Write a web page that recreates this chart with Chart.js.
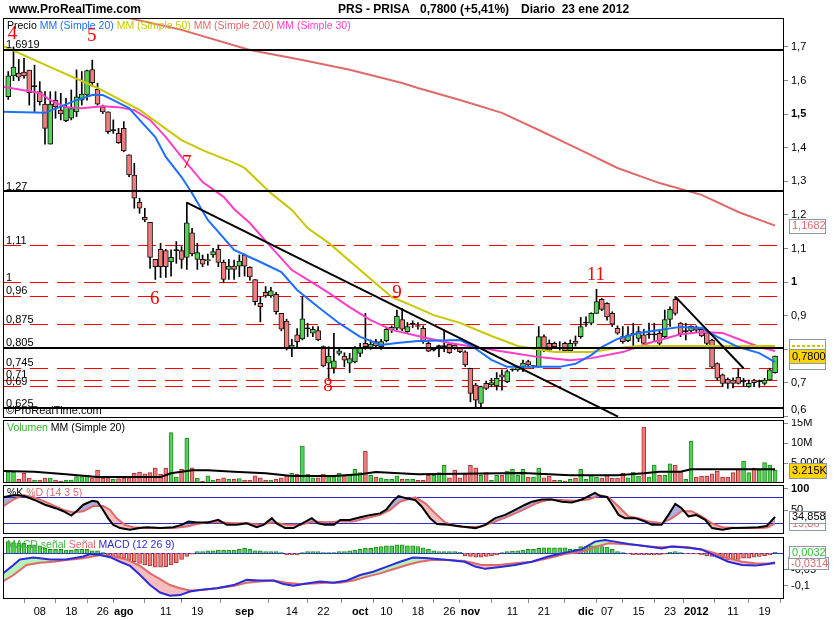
<!DOCTYPE html>
<html lang="es">
<head>
<meta charset="utf-8">
<title>PRS - PRISA</title>
<script src="https://cdn.jsdelivr.net/npm/chart.js@4.4.1/dist/chart.umd.min.js"></script>
<style>
  html, body { margin: 0; padding: 0; background: #fff; }
  #wrap { position: relative; width: 835px; height: 620px; overflow: hidden; }
  #wrap canvas { position: absolute; left: 0; }
</style>
</head>
<body>
<div id="wrap">
  <canvas id="cPrice" width="835" height="419" style="top:0px"></canvas>
  <canvas id="cVol" width="835" height="65" style="top:419px"></canvas>
  <canvas id="cSto" width="835" height="51" style="top:484px"></canvas>
  <canvas id="cMacd" width="835" height="84" style="top:536px"></canvas>
</div>
<script>
// daily candles, 30 jun 2011 -> 23 ene 2012 (index = trading day)
const opens = [
  1.552,1.614,1.622,1.625,1.631,1.582,1.567,1.530,1.411,1.542,
  1.512,1.481,1.488,1.507,1.542,1.557,1.633,1.574,1.522,1.507,
  1.451,1.443,1.458,1.379,1.319,1.238,1.193,1.178,1.068,1.098,
  1.094,1.060,1.094,1.094,1.074,1.147,1.068,1.068,1.064,1.081,
  1.098,1.059,1.038,1.048,1.048,1.081,1.044,1.008,0.937,0.970,
  0.959,0.964,0.907,0.884,0.806,0.843,0.831,0.861,0.848,0.856,
  0.808,0.759,0.744,0.788,0.780,0.759,0.763,0.788,0.818,0.806,
  0.823,0.808,0.826,0.858,0.863,0.889,0.853,0.875,0.870,0.863,
  0.818,0.798,0.808,0.808,0.816,0.813,0.803,0.793,0.744,0.694,
  0.639,0.699,0.694,0.691,0.724,0.704,0.739,0.739,0.747,0.764,
  0.749,0.747,0.838,0.818,0.818,0.803,0.818,0.796,0.825,0.838,
  0.878,0.878,0.907,0.949,0.937,0.907,0.863,0.838,0.826,0.843,
  0.833,0.843,0.843,0.843,0.848,0.838,0.889,0.949,0.878,0.853,
  0.855,0.867,0.860,0.850,0.828,0.758,0.724,0.711,0.709,0.717,
  0.704,0.689,0.709,0.704,0.699,0.709,0.731
];
const highs = [
  1.627,1.700,1.663,1.666,1.631,1.646,1.597,1.567,1.567,1.567,
  1.562,1.547,1.572,1.632,1.627,1.631,1.661,1.592,1.527,1.507,
  1.483,1.458,1.478,1.379,1.354,1.250,1.220,1.178,1.068,1.116,
  1.098,1.096,1.121,1.106,1.237,1.160,1.116,1.081,1.084,1.101,
  1.111,1.066,1.068,1.066,1.081,1.084,1.046,1.008,0.957,0.987,
  0.985,0.970,0.907,0.890,0.830,0.862,0.957,0.878,0.868,0.868,
  0.810,0.808,0.848,0.803,0.790,0.788,0.808,0.818,0.907,0.828,
  0.830,0.830,0.866,0.870,0.917,0.922,0.880,0.885,0.880,0.870,
  0.828,0.805,0.813,0.858,0.818,0.818,0.806,0.796,0.744,0.699,
  0.691,0.706,0.714,0.731,0.739,0.739,0.742,0.750,0.768,0.768,
  0.752,0.868,0.843,0.828,0.822,0.823,0.822,0.828,0.840,0.895,
  0.897,0.909,0.979,0.952,0.939,0.912,0.870,0.868,0.868,0.878,
  0.868,0.860,0.878,0.878,0.858,0.917,0.927,0.957,0.880,0.878,
  0.870,0.870,0.866,0.853,0.830,0.760,0.727,0.715,0.715,0.744,
  0.714,0.709,0.711,0.709,0.714,0.744,0.780
];
const lows = [
  1.544,1.600,1.600,1.607,1.527,1.508,1.527,1.411,1.411,1.488,
  1.483,1.478,1.483,1.493,1.527,1.542,1.582,1.527,1.502,1.443,
  1.443,1.413,1.388,1.314,1.220,1.205,1.180,1.041,1.008,1.014,
  1.014,1.018,1.056,1.041,1.038,1.078,1.038,1.046,1.051,1.074,
  1.046,0.998,1.008,1.008,1.016,1.018,1.006,0.932,0.882,0.955,
  0.955,0.905,0.855,0.798,0.778,0.808,0.828,0.838,0.838,0.826,
  0.748,0.711,0.729,0.783,0.748,0.731,0.760,0.778,0.800,0.800,
  0.805,0.800,0.822,0.850,0.858,0.856,0.850,0.865,0.860,0.818,
  0.793,0.795,0.778,0.793,0.788,0.800,0.790,0.749,0.644,0.625,
  0.625,0.680,0.689,0.679,0.679,0.701,0.735,0.735,0.734,0.747,
  0.745,0.747,0.793,0.793,0.805,0.798,0.793,0.793,0.810,0.833,
  0.868,0.873,0.907,0.915,0.887,0.868,0.845,0.818,0.823,0.808,
  0.823,0.813,0.833,0.823,0.808,0.833,0.868,0.902,0.838,0.828,
  0.850,0.850,0.838,0.813,0.744,0.709,0.689,0.684,0.685,0.697,
  0.689,0.687,0.689,0.687,0.694,0.707,0.729
];
const closes = [
  1.614,1.640,1.610,1.614,1.564,1.582,1.537,1.458,1.530,1.522,
  1.501,1.522,1.517,1.552,1.560,1.630,1.594,1.530,1.507,1.448,
  1.451,1.415,1.391,1.319,1.250,1.220,1.185,1.074,1.046,1.046,
  1.046,1.074,1.094,1.068,1.177,1.084,1.088,1.054,1.066,1.091,
  1.059,1.008,1.048,1.038,1.063,1.048,1.016,0.942,0.927,0.959,
  0.974,0.912,0.860,0.803,0.813,0.823,0.891,0.861,0.860,0.828,
  0.751,0.780,0.766,0.796,0.768,0.773,0.806,0.803,0.808,0.816,
  0.810,0.823,0.860,0.866,0.899,0.860,0.868,0.875,0.868,0.823,
  0.795,0.798,0.808,0.808,0.790,0.803,0.793,0.754,0.669,0.649,
  0.689,0.684,0.701,0.714,0.717,0.734,0.739,0.747,0.759,0.754,
  0.749,0.838,0.798,0.798,0.808,0.803,0.796,0.818,0.818,0.868,
  0.878,0.907,0.942,0.919,0.897,0.875,0.848,0.823,0.843,0.848,
  0.853,0.818,0.843,0.843,0.818,0.889,0.919,0.907,0.846,0.853,
  0.869,0.857,0.840,0.818,0.747,0.714,0.699,0.699,0.699,0.699,
  0.704,0.699,0.701,0.704,0.709,0.739,0.780
];
// volume in millions of shares
const volumes = [
  2.75,2.75,0.9,2.4,1.2,0.7,0.75,1.2,1.2,0.7,
  0.5,0.75,0.7,1.6,1.6,1.9,1.3,3.2,1.2,1.3,
  0.9,1.1,1.2,1.3,2.4,2.75,2.3,2.6,3.7,2.2,
  3.7,12.6,1.5,3.4,11.2,3.8,1.2,0.5,1.8,0.7,
  0.9,1.3,0.9,0.9,1.1,0.7,0.75,1.8,1.3,0.7,
  0.75,0.9,1.3,1.8,2.4,2.2,9.25,2.2,1.3,1.3,
  2.2,1.6,1.6,2.4,1.8,1.9,3.4,2.6,8.0,1.9,
  1.5,1.3,0.9,0.9,1.8,0.9,0.9,0.9,0.67,0.67,
  1.9,1.9,2.6,4.4,1.3,3.2,1.3,2.2,4.4,3.8,
  1.9,2.6,0.67,1.9,1.9,3.0,3.4,1.9,3.4,1.5,
  1.5,3.7,1.3,1.75,0.67,0.67,0.5,0.9,1.2,3.4,
  0.9,1.9,1.5,1.2,1.9,1.2,1.2,2.4,1.3,2.75,
  1.75,14.0,1.5,4.5,1.9,1.9,4.8,4.5,3.0,0.9,
  10.5,1.5,1.75,1.75,2.3,3.0,1.5,1.5,2.6,3.4,
  5.5,2.6,3.7,3.2,5.1,4.5,3.215
];
const macdHist = [
  0.036,0.033,0.031,0.031,0.026,0.026,0.023,0.015,0.012,0.012,
  0.012,0.010,0.010,0.012,0.012,0.012,0.008,0.008,0.002,-0.005,
  -0.010,-0.012,-0.015,-0.021,-0.026,-0.031,-0.036,-0.039,-0.043,-0.043,
  -0.041,-0.036,-0.029,-0.019,-0.010,-0.003,0.005,0.005,0.008,0.008,
  0.010,0.010,0.010,0.010,0.012,0.015,0.012,0.008,0.008,0.005,
  0.005,0.005,0.002,-0.005,-0.005,-0.005,0.002,0.005,0.005,0.005,
  0.002,0.002,0.002,0.005,0.005,0.008,0.010,0.012,0.015,0.015,
  0.019,0.021,0.023,0.023,0.026,0.026,0.023,0.023,0.021,0.017,
  0.012,0.008,0.005,0.005,0.005,0.005,0.003,-0.008,-0.010,-0.012,
  -0.012,-0.010,-0.008,-0.005,0.002,0.005,0.007,0.008,0.010,0.012,
  0.012,0.015,0.017,0.017,0.017,0.017,0.017,0.012,0.012,0.021,
  0.021,0.023,0.023,0.021,0.019,0.012,0.005,0.002,-0.002,-0.005,
  -0.005,-0.005,-0.005,-0.005,-0.005,-0.003,0.003,0.005,0.002,-0.002,
  -0.002,-0.002,-0.005,-0.008,-0.010,-0.012,-0.015,-0.019,-0.019,-0.019,
  -0.015,-0.015,-0.012,-0.010,-0.007,-0.005,0.0032
];

// indicator lines: [day index, value]
const mm20 = [[-1,1.507],[7,1.504],[13,1.542],[16,1.557],[18,1.557],[20,1.542],[23,1.518],[25,1.483],[28,1.432],[30,1.373],[33,1.313],[35,1.265],[38,1.185],[43,1.096],[48,1.060],[52,1.030],[55,0.977],[59,0.926],[63,0.878],[67,0.837],[71,0.813],[74,0.819],[78,0.825],[86,0.828],[88,0.813],[92,0.769],[95,0.748],[105,0.748],[108,0.757],[111,0.783],[113,0.807],[116,0.831],[120,0.849],[124,0.858],[128,0.867],[132,0.864],[135,0.837],[139,0.807],[143,0.789],[146,0.762]];
const mm30 = [[-1,1.582],[6,1.563],[8,1.542],[11,1.521],[14,1.518],[18,1.524],[21,1.521],[24,1.512],[27,1.483],[30,1.432],[33,1.373],[37,1.298],[41,1.254],[43,1.218],[46,1.176],[50,1.105],[54,1.036],[58,0.998],[61,0.968],[65,0.926],[69,0.887],[73,0.858],[78,0.840],[84,0.819],[90,0.804],[96,0.789],[101,0.777],[107,0.768],[111,0.774],[117,0.792],[122,0.819],[128,0.845],[132,0.852],[136,0.849],[139,0.831],[143,0.807],[146,0.795]];
const mm50 = [[-1,1.703],[8,1.640],[17,1.578],[25,1.513],[33,1.423],[37,1.393],[43,1.355],[45,1.340],[50,1.265],[54,1.215],[57,1.161],[61,1.117],[67,1.036],[73,0.956],[78,0.923],[81,0.902],[86,0.879],[92,0.840],[97,0.810],[104,0.792],[111,0.792],[116,0.804],[120,0.810],[132,0.810],[146,0.810]];
const mm200 = [[0,1.88],[23,1.786],[33,1.751],[46,1.691],[56,1.661],[65,1.632],[75,1.593],[78,1.578],[86,1.542],[94,1.504],[101,1.453],[109,1.393],[116,1.340],[124,1.295],[132,1.260],[139,1.209],[146,1.1682]];
const volMa = [[-1,3.0],[5,2.83],[11,2.17],[17,1.5],[29,1.5],[31,2.42],[35,3.17],[38,3.17],[43,2.83],[49,2.42],[54,1.75],[62,1.75],[67,2.17],[70,2.75],[78,2.17],[98,2.5],[107,1.92],[116,1.92],[121,2.42],[124,2.83],[128,2.83],[130,3.42],[146,3.42]];
const stochK = [[-1,80],[1,85],[2,85],[3,83],[5,74],[7,63],[9,55],[10.5,48],[12,38],[13,48],[14.3,63],[16,72],[17,70],[18,52],[19,32],[20,16.5],[21.3,9],[23.2,5],[25,9],[26.4,11],[29,9],[31.4,11],[33,16.5],[34.3,24],[36,22],[38,22],[40,28],[41.6,16.5],[43.5,16.5],[45.4,20],[47.3,11],[48.6,16.5],[50.2,32],[51.1,20],[52.7,9],[54.3,9],[56,20],[57.8,32],[59,20],[60.3,16.5],[62,16.5],[63.2,28],[65,28],[67,34],[69,39.5],[70.8,43],[72,52],[73.3,72],[74.3,83],[76,77],[77.5,74],[78.7,59],[80.3,32],[81.6,18.5],[83.8,16.5],[86.3,12.5],[89,9],[90.8,16.5],[92.7,32],[94.6,39.5],[96.5,51],[98.4,63],[99.7,70],[101.6,75],[103.5,75],[105.4,70],[107.3,68],[109.2,75],[110.5,83],[111.7,90.5],[112.7,83],[114,81],[115,63],[116.2,39.5],[117.4,32],[119.4,32],[121.3,24],[122.5,16.5],[124.4,16.5],[125.7,39.5],[127,65],[128.2,55],[129.5,36],[131,39.5],[132.7,28],[134,9],[136,5],[137.8,9],[140.3,10],[142.8,11],[144.4,14],[146,34.858]];
const stochD = [[-1,59],[1,75],[3,85],[5,80],[7,70],[9,59],[10.5,51],[12.4,45],[14.3,48],[16.2,60],[18.1,60],[19.4,51],[20.6,32],[22.2,16.5],[23.8,11],[26.4,9],[31.4,9],[34,12.5],[36,18.5],[37.8,22.5],[40.3,22.5],[43,20],[45.4,20],[48,16.5],[50.5,22.5],[53,16.5],[55.6,16.5],[58.1,24],[60.6,22.5],[63.2,24],[65.7,24],[68.3,32],[70.8,39.5],[72.7,51],[74.6,70],[76.5,77],[77.5,80],[79.4,66],[81.3,43],[83.2,22],[85.1,14],[87.6,11],[90.1,12.5],[92.7,24],[95.2,36],[97.8,50],[100.3,65],[102.8,75],[105.4,74],[108,72],[110.5,75],[112.7,85],[114.3,80],[116.2,59],[118.1,36],[120,32],[122,24],[124.4,20],[126.4,32],[128.2,48],[130.1,48],[132,36],[134,20],[136,11],[138.4,9],[143.5,9],[144.7,11],[146,19.86]];
const macdLine = [[-1,-0.062],[1,-0.036],[2.2,-0.019],[4.8,-0.013],[8,-0.019],[11,-0.019],[14.3,-0.010],[15.6,-0.002],[17.5,-0.005],[19.4,-0.012],[21.3,-0.026],[23.2,-0.039],[25.1,-0.067],[27,-0.098],[28.9,-0.121],[30.8,-0.131],[32.7,-0.129],[34.6,-0.118],[36.5,-0.113],[39.7,-0.108],[42.9,-0.098],[45.4,-0.082],[47.9,-0.084],[50.5,-0.084],[52.4,-0.095],[54.3,-0.100],[56.8,-0.093],[59.4,-0.087],[61.9,-0.091],[64.5,-0.084],[67,-0.067],[69.5,-0.057],[72.1,-0.041],[74.6,-0.026],[77.1,-0.013],[80,-0.015],[83.8,-0.021],[86.9,-0.026],[88.9,-0.041],[90.8,-0.048],[93.3,-0.043],[96.5,-0.036],[99.7,-0.026],[102.8,-0.010],[106,0.002],[109.2,0.012],[111.7,0.036],[113.6,0.041],[115.5,0.036],[118.1,0.029],[121.9,0.021],[124.4,0.015],[126.3,0.021],[129.5,0.017],[132,0.012],[134.6,-0.008],[137.1,-0.026],[139.7,-0.036],[142.2,-0.038],[144.7,-0.033],[146,-0.0282]];
const signalLine = [[-1,-0.087],[1,-0.067],[3.5,-0.036],[6,-0.029],[8.6,-0.026],[11.1,-0.021],[14.3,-0.015],[17.5,-0.005],[20,-0.010],[22.5,-0.019],[25.1,-0.039],[27,-0.062],[28.9,-0.080],[30.8,-0.098],[32.7,-0.108],[34.6,-0.115],[36.5,-0.113],[39.7,-0.108],[42.9,-0.101],[45.4,-0.091],[47.9,-0.087],[50.5,-0.084],[53,-0.091],[55.6,-0.095],[58.1,-0.093],[60.6,-0.091],[63.2,-0.091],[65.7,-0.084],[68.3,-0.072],[70.8,-0.062],[73.3,-0.049],[75.9,-0.036],[78.1,-0.027],[80.6,-0.021],[83.8,-0.021],[86.9,-0.024],[90.1,-0.036],[93.3,-0.036],[96.5,-0.031],[99.7,-0.026],[102.8,-0.015],[106,-0.002],[109.2,0.005],[111.7,0.019],[114.3,0.031],[116.8,0.029],[119.4,0.026],[121.9,0.021],[124.4,0.019],[126.9,0.021],[129.5,0.019],[132,0.012],[134.6,0.000],[137.1,-0.015],[139.7,-0.026],[142.2,-0.031],[146,-0.0314]];

// drawn studies
const trendA = [[34,1.237],[116.1,0.600]];
const trendB = [[127,0.957],[140,0.744]];
const solidLevels = [1.6919, 1.27, 0.805, 0.625];
const dashLevels = [1.11, 1, 0.96, 0.875, 0.745, 0.71, 0.69];
const waveNums = [['4',0.8,1.739],['5',15.9,1.734],['6',27.9,0.949],['7',34,1.355],['8',60.9,0.690],['9',74,0.968],['11',111.9,1.021]];

// axes
const priceTicks = [0.6,0.7,0.8,0.9,1,1.1,1.2,1.3,1.4,1.5,1.6,1.7];
const volTicks = [5,10,15];
const volTickLbl = ['5,000K','10M','15M'];
const stoTicks = [50,100];
const stoLevels = [20,80];
const macdTicks = [-0.1,-0.05];
const tickIdx = [6,12,18,22,30,36,45,54,60,67,72,78,84,88,96,102,110,114,120,126,131,138,144];
const tickLbl = ['08','18','26','ago','11','19','sep','14','22','oct','10','18','26','nov','11','21','dic','07','15','23','2012','11','19'];
const boldLbl = ['ago','sep','oct','nov','dic','2012'];

const FONT = '"Liberation Sans", Arial, Helvetica, sans-serif';
Chart.defaults.font.family = FONT;
Chart.defaults.font.size = 11;
Chart.defaults.color = '#000';

const GREEN = '#52d452', GREEN_EDGE = '#238a23';
const RED = '#ee7d7d', RED_EDGE = '#a83636';
const C20 = '#1f6fff', C50 = '#c8c800', C200 = '#e06a6a', C30 = '#ff3ec8', SAL = '#e06a6a', MACD_BLUE = '#2b2bdc';
const X_MIN = -1.0, X_MAX = 147.7;

const pts = arr => arr.map(p => ({x: p[0], y: p[1]}));
const last = arr => arr[arr.length - 1][1];
const comma = v => String(v).replace('.', ',');
const line = (arr, color, w, order) => ({
  type: 'line', data: pts(arr), borderColor: color, borderWidth: w || 2,
  pointRadius: 0, tension: 0, fill: false, order: order || 1, clip: 0
});

function xAxis(show) {
  if (!show) return {type: 'linear', min: X_MIN, max: X_MAX, offset: false, display: false};
  return {
    type: 'linear', min: X_MIN, max: X_MAX, offset: false,
    afterBuildTicks: s => { s.ticks = tickIdx.map(v => ({value: v})); },
    afterFit: s => { s.height = 21; s.paddingLeft = 0; s.paddingRight = 0; },
    grid: {display: true, drawOnChartArea: false, drawTicks: true, tickLength: 4, color: '#8a8a8a'},
    border: {display: false},
    ticks: {
      autoSkip: false, maxRotation: 0, padding: 2, color: '#000',
      callback: (v, i) => tickLbl[i],
      font: c => ({family: FONT, size: 11, weight: boldLbl.includes(tickLbl[c.index]) ? 'bold' : 'normal'})
    }
  };
}

function yAxis(min, max, ticks, fmt, isBold) {
  return {
    type: 'linear', position: 'right', min: min, max: max,
    afterBuildTicks: s => { s.ticks = ticks.map(v => ({value: v})); },
    afterFit: s => { s.width = 51; s.paddingTop = 0; s.paddingBottom = 0; },
    grid: {drawOnChartArea: false, drawTicks: true, tickLength: 4, color: '#8a8a8a'},
    border: {display: false},
    ticks: {
      autoSkip: false, padding: 3, color: '#000',
      callback: v => fmt(v),
      font: c => ({family: FONT, size: 11, weight: (isBold && c.tick && isBold(c.tick.value)) ? 'bold' : 'normal'})
    }
  };
}

function baseOptions(padTop, padBottom, x, y) {
  return {
    responsive: false, animation: false, events: [],
    layout: {padding: {left: 3, right: 0, top: padTop, bottom: padBottom}},
    plugins: {legend: {display: false}, tooltip: {enabled: false}, filler: {drawTime: 'beforeDatasetsDraw'}},
    scales: {x: x, y: y}
  };
}

// ---- drawing helpers ----
function hline(ctx, a, py, color, w, dash) {
  ctx.save();
  ctx.strokeStyle = color; ctx.lineWidth = w; ctx.setLineDash(dash || []);
  ctx.beginPath(); ctx.moveTo(a.left, py); ctx.lineTo(a.right, py); ctx.stroke();
  ctx.restore();
}
function frame(ctx, a) {
  ctx.save();
  ctx.strokeStyle = '#000'; ctx.lineWidth = 1; ctx.setLineDash([]);
  ctx.strokeRect(Math.round(a.left) + 0.5, Math.round(a.top) + 0.5,
                 Math.round(a.right - a.left) - 1, Math.round(a.bottom - a.top) - 1);
  ctx.restore();
}
function legendText(ctx, x, y, parts) {
  ctx.save();
  ctx.font = '10.5px ' + FONT; ctx.textBaseline = 'middle'; ctx.textAlign = 'left';
  let cx = x;
  parts.forEach(p => { ctx.fillStyle = p[1]; ctx.fillText(p[0], cx, y); cx += ctx.measureText(p[0] + ' ').width; });
  ctx.restore();
}
function tag(chart, v, text, o) {
  const ctx = chart.ctx;
  const y = chart.scales.y.getPixelForValue(v);
  const h = o.h || 14, x = o.x || 789, w = o.w || 36;
  const top = Math.round(y - h / 2) + 0.5;
  ctx.save();
  ctx.fillStyle = o.fill || '#fff'; ctx.fillRect(x, top, w, h);
  ctx.strokeStyle = '#8d99a6'; ctx.lineWidth = 1; ctx.strokeRect(x + 0.5, top, w, h);
  if (o.dash) {
    ctx.strokeStyle = o.dash; ctx.lineWidth = 2; ctx.setLineDash([3, 2]);
    ctx.beginPath(); ctx.moveTo(x + 3, Math.round(y)); ctx.lineTo(x + w - 2, Math.round(y)); ctx.stroke();
  }
  if (text) {
    ctx.fillStyle = o.color || '#000'; ctx.font = '11px ' + FONT;
    ctx.textBaseline = 'middle'; ctx.textAlign = 'left';
    ctx.fillText(text, x + 3, y + 0.5);
  }
  ctx.restore();
}

// ---- price panel ----
const bodyFill = opens.map((o, i) => closes[i] > o ? GREEN : closes[i] < o ? RED : '#000');

const pricePlugin = {
  id: 'pricePanel',
  beforeDatasetsDraw(chart) {
    const {ctx, chartArea: a, scales: {y}} = chart;
    dashLevels.forEach(v => hline(ctx, a, Math.round(y.getPixelForValue(v)) + 0.5, '#ff0000', 1, [18, 9]));
  },
  afterDatasetsDraw(chart) {
    const {ctx, chartArea: a, scales: {x, y}} = chart;
    solidLevels.forEach(v => hline(ctx, a, Math.round(y.getPixelForValue(v)), '#000', 2));
    ctx.save();
    ctx.font = '11px ' + FONT; ctx.fillStyle = '#000'; ctx.textAlign = 'left'; ctx.textBaseline = 'alphabetic';
    solidLevels.concat(dashLevels).forEach(v => ctx.fillText(comma(v), a.left + 3, y.getPixelForValue(v) - 1.5));
    ctx.font = '19px "Liberation Serif", "Times New Roman", serif';
    ctx.fillStyle = '#ff0000'; ctx.textAlign = 'center'; ctx.textBaseline = 'middle';
    waveNums.forEach(w => ctx.fillText(w[0], x.getPixelForValue(w[1]), y.getPixelForValue(w[2])));
    ctx.font = '11px ' + FONT; ctx.fillStyle = '#000'; ctx.textAlign = 'left';
    ctx.fillText('\u00A9ProRealTime.com', a.left + 3, a.bottom - 7);
    ctx.restore();
    legendText(ctx, a.left + 4, a.top + 8.5, [['Precio', '#000'], ['MM (Simple 20)', C20], ['MM (Simple 50)', C50], ['MM (Simple 200)', C200], ['MM (Simple 30)', C30]]);
    frame(ctx, a);
  },
  afterDraw(chart) {
    const ctx = chart.ctx;
    tag(chart, last(mm200), last(mm200).toFixed(4).replace('.', ','), {color: SAL});
    tag(chart, last(mm50), '', {dash: C50});
    tag(chart, last(mm20), '', {dash: C20});
    const c = closes[closes.length - 1];
    tag(chart, c, c.toFixed(4).replace('.', ','), {fill: '#ffd400'});
    ctx.save();
    ctx.font = 'bold 12px ' + FONT; ctx.fillStyle = '#000'; ctx.textBaseline = 'middle'; ctx.textAlign = 'left';
    ctx.fillText('www.ProRealTime.com', 9, 10);
    ctx.fillText('PRS - PRISA', 338, 10);
    ctx.fillText(c.toFixed(4).replace('.', ',') + ' (+5,41%)', 420, 10);
    ctx.fillText('Diario  23 ene 2012', 521, 10);
    ctx.restore();
  }
};

new Chart(document.getElementById('cPrice'), {
  type: 'bar',
  data: {
    datasets: [
      {type: 'bar', data: highs.map((h, i) => ({x: i, y: [lows[i], h]})), backgroundColor: '#000',
       barThickness: 1, grouped: false, order: 6},
      {type: 'bar', data: opens.map((o, i) => ({x: i, y: [o, closes[i]]})), backgroundColor: bodyFill,
       borderColor: '#111', borderWidth: 1, borderSkipped: false, barThickness: 5, minBarLength: 1,
       grouped: false, order: 5},
      line(mm200, C200, 2, 4),
      line(mm50, C50, 2, 3),
      line(mm30, C30, 2, 3),
      line(mm20, C20, 2, 2),
      line(trendA, '#000', 2, 1),
      line(trendB, '#000', 2, 1)
    ]
  },
  options: baseOptions(18, 1, xAxis(false),
    yAxis(0.5958, 1.7863, priceTicks, v => v === 0.6 ? ['0,6', ''] : comma(v), v => v === 1.5 || v === 1)),
  plugins: [pricePlugin]
});

// ---- volume panel ----
const candleCol = opens.map((o, i) => closes[i] >= o ? GREEN : RED);
const candleEdge = opens.map((o, i) => closes[i] >= o ? GREEN_EDGE : RED_EDGE);
new Chart(document.getElementById('cVol'), {
  type: 'bar',
  data: {
    datasets: [
      {type: 'bar', data: volumes.map((v, i) => ({x: i, y: v})), backgroundColor: candleCol,
       borderColor: candleEdge, borderWidth: 1, barThickness: 4, grouped: false, order: 2},
      line(volMa, '#000', 2, 1)
    ]
  },
  options: baseOptions(1, 1, xAxis(false),
    yAxis(0, 15.75, volTicks, v => volTickLbl[volTicks.indexOf(v)])),
  plugins: [{
    id: 'volPanel',
    afterDatasetsDraw(chart) {
      const {ctx, chartArea: a} = chart;
      legendText(ctx, a.left + 4, a.top + 8, [['Volumen', '#35b535'], ['MM (Simple 20)', '#000']]);
      frame(ctx, a);
    },
    afterDraw(chart) {
      const v = volumes[volumes.length - 1];
      const k = Math.round(v * 1000);
      tag(chart, v, Math.floor(k / 1000) + '.' + String(k % 1000).padStart(3, '0') + 'K', {fill: '#ffd400', h: 15, w: 37});
    }
  }]
});

// ---- stochastic panel ----
new Chart(document.getElementById('cSto'), {
  type: 'line',
  data: {
    datasets: [
      Object.assign(line(stochK, '#000', 2, 1), {fill: {target: 1, above: 'rgba(160,160,215,0.85)', below: 'rgba(243,178,178,0.85)'}}),
      line(stochD, SAL, 2, 2)
    ]
  },
  options: baseOptions(1, 1, xAxis(false),
    yAxis(-4.6, 108.5, stoTicks, v => String(v), v => v === 100)),
  plugins: [{
    id: 'stoPanel',
    beforeDatasetsDraw(chart) {
      const {ctx, chartArea: a, scales: {y}} = chart;
      stoLevels.forEach(v => hline(ctx, a, Math.round(y.getPixelForValue(v)) + 0.5, '#2a2acc', 1));
    },
    afterDatasetsDraw(chart) {
      const {ctx, chartArea: a} = chart;
      legendText(ctx, a.left + 4, a.top + 8, [['%K', '#000'], ['%D (14 3 5)', SAL]]);
      frame(ctx, a);
    },
    afterDraw(chart) {
      tag(chart, last(stochD), last(stochD).toFixed(2).replace('.', ','), {color: SAL});
      tag(chart, last(stochK), last(stochK).toFixed(3).replace('.', ','), {h: 12});
    }
  }]
});

// ---- MACD panel ----
new Chart(document.getElementById('cMacd'), {
  type: 'bar',
  data: {
    datasets: [
      {type: 'bar', data: macdHist.map((v, i) => ({x: i, y: v})),
       backgroundColor: macdHist.map(v => v >= 0 ? GREEN : RED),
       borderColor: macdHist.map(v => v >= 0 ? GREEN_EDGE : RED_EDGE),
       borderWidth: 1, barThickness: 4, grouped: false, order: 3},
      Object.assign(line(macdLine, MACD_BLUE, 2, 1), {fill: {target: 2, above: 'rgba(175,240,175,0.9)', below: 'rgba(245,182,182,0.9)'}}),
      line(signalLine, SAL, 2, 2)
    ]
  },
  options: baseOptions(1, 0, xAxis(true),
    yAxis(-0.141, 0.0503, macdTicks, v => comma(v))),
  plugins: [{
    id: 'macdPanel',
    beforeDatasetsDraw(chart) {
      const {ctx, chartArea: a, scales: {y}} = chart;
      hline(ctx, a, Math.round(y.getPixelForValue(0)) + 0.5, '#2a2acc', 1);
    },
    afterDatasetsDraw(chart) {
      const {ctx, chartArea: a} = chart;
      legendText(ctx, a.left + 4, a.top + 8, [['MACD', '#35b535'], ['se\u00F1al', '#35b535'], ['Se\u00F1al', SAL], ['MACD (12 26 9)', MACD_BLUE]]);
      frame(ctx, a);
    },
    afterDraw(chart) {
      const s = last(signalLine), h = macdHist[macdHist.length - 1];
      tag(chart, s, s.toFixed(4).replace('.', ','), {color: SAL, h: 12, w: 40, x: 788});
      tag(chart, h, h.toFixed(4).replace('.', ','), {color: '#33c433', h: 12});
    }
  }]
});
</script>
</body>
</html>
